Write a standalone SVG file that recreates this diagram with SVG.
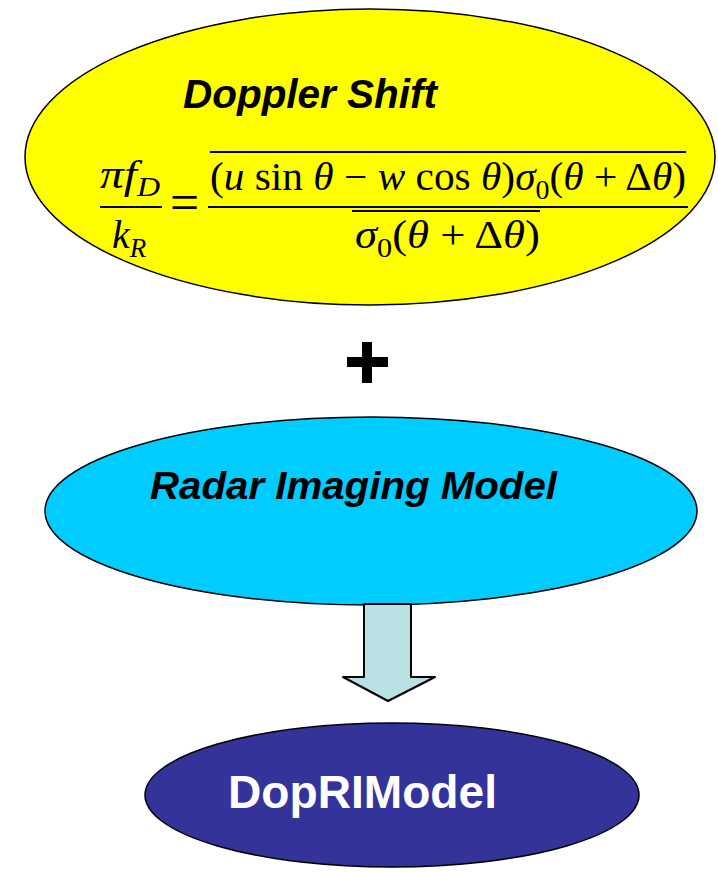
<svg xmlns="http://www.w3.org/2000/svg" width="718" height="872" viewBox="0 0 718 872">
<style>
.ell{stroke:#000;stroke-width:1.5}
.ttl{font-family:"Liberation Sans",Arial,sans-serif;font-weight:bold;font-style:italic;fill:#000}
.m{font-family:"Liberation Serif","Times New Roman",serif;font-size:40px;fill:#000}
.i{font-style:italic}
.rule{stroke:#000;stroke-width:2}
</style>
<rect width="718" height="872" fill="#fff"/>
<g id="doppler">
<ellipse class="ell" cx="370" cy="157" rx="345" ry="148" fill="#ffff00"/>
<text class="ttl" x="183" y="108" font-size="40" textLength="254" lengthAdjust="spacingAndGlyphs">Doppler Shift</text>
<text class="m" x="100" y="188" textLength="60" lengthAdjust="spacingAndGlyphs"><tspan class="i">πf</tspan><tspan class="i" font-size="27" dy="8">D</tspan></text>
<line class="rule" x1="100" y1="207" x2="162" y2="207"/>
<text class="m" x="112" y="248"><tspan class="i">k</tspan><tspan class="i" font-size="27" dy="9">R</tspan></text>
<text class="m" x="170" y="220" style="font-size:52px">=</text>
<line class="rule" x1="210" y1="152" x2="686" y2="152"/>
<text class="m" x="210" y="190" textLength="476" lengthAdjust="spacingAndGlyphs">(<tspan class="i">u</tspan> sin <tspan class="i">θ</tspan> − <tspan class="i">w</tspan> cos <tspan class="i">θ</tspan>)<tspan class="i">σ</tspan><tspan font-size="27" dy="9">0</tspan><tspan dy="-9">(</tspan><tspan class="i">θ</tspan> + Δ<tspan class="i">θ</tspan>)</text>
<line class="rule" x1="208" y1="207" x2="688" y2="207"/>
<line class="rule" x1="352" y1="211" x2="540" y2="211"/>
<text class="m" x="355" y="248" textLength="185" lengthAdjust="spacingAndGlyphs"><tspan class="i">σ</tspan><tspan font-size="27" dy="9">0</tspan><tspan dy="-9">(</tspan><tspan class="i">θ</tspan> + Δ<tspan class="i">θ</tspan>)</text>
</g>
<g id="plus">
<rect x="362" y="342" width="10" height="41" fill="#000"/>
<rect x="347" y="357" width="41" height="10" fill="#000"/>
</g>
<g id="radar">
<ellipse class="ell" cx="371" cy="511" rx="326" ry="94" fill="#00ccff"/>
<text class="ttl" x="150" y="499" font-size="38" textLength="407" lengthAdjust="spacingAndGlyphs">Radar  Imaging Model</text>
</g>
<g id="connectors">
<path d="M364,604 L411,604 L411,677 L435,677 L388,701 L343,677 L364,677 Z" fill="#b9e0e3" stroke="#000" stroke-width="2" stroke-linejoin="round"/>
</g>
<g id="doprimodel">
<ellipse class="ell" cx="392" cy="795" rx="247" ry="72" fill="#333399"/>
<text x="228" y="808" font-family="Liberation Sans,Arial,sans-serif" font-weight="bold" font-size="46" fill="#fff" textLength="269" lengthAdjust="spacingAndGlyphs">DopRIModel</text>
</g>
</svg>
